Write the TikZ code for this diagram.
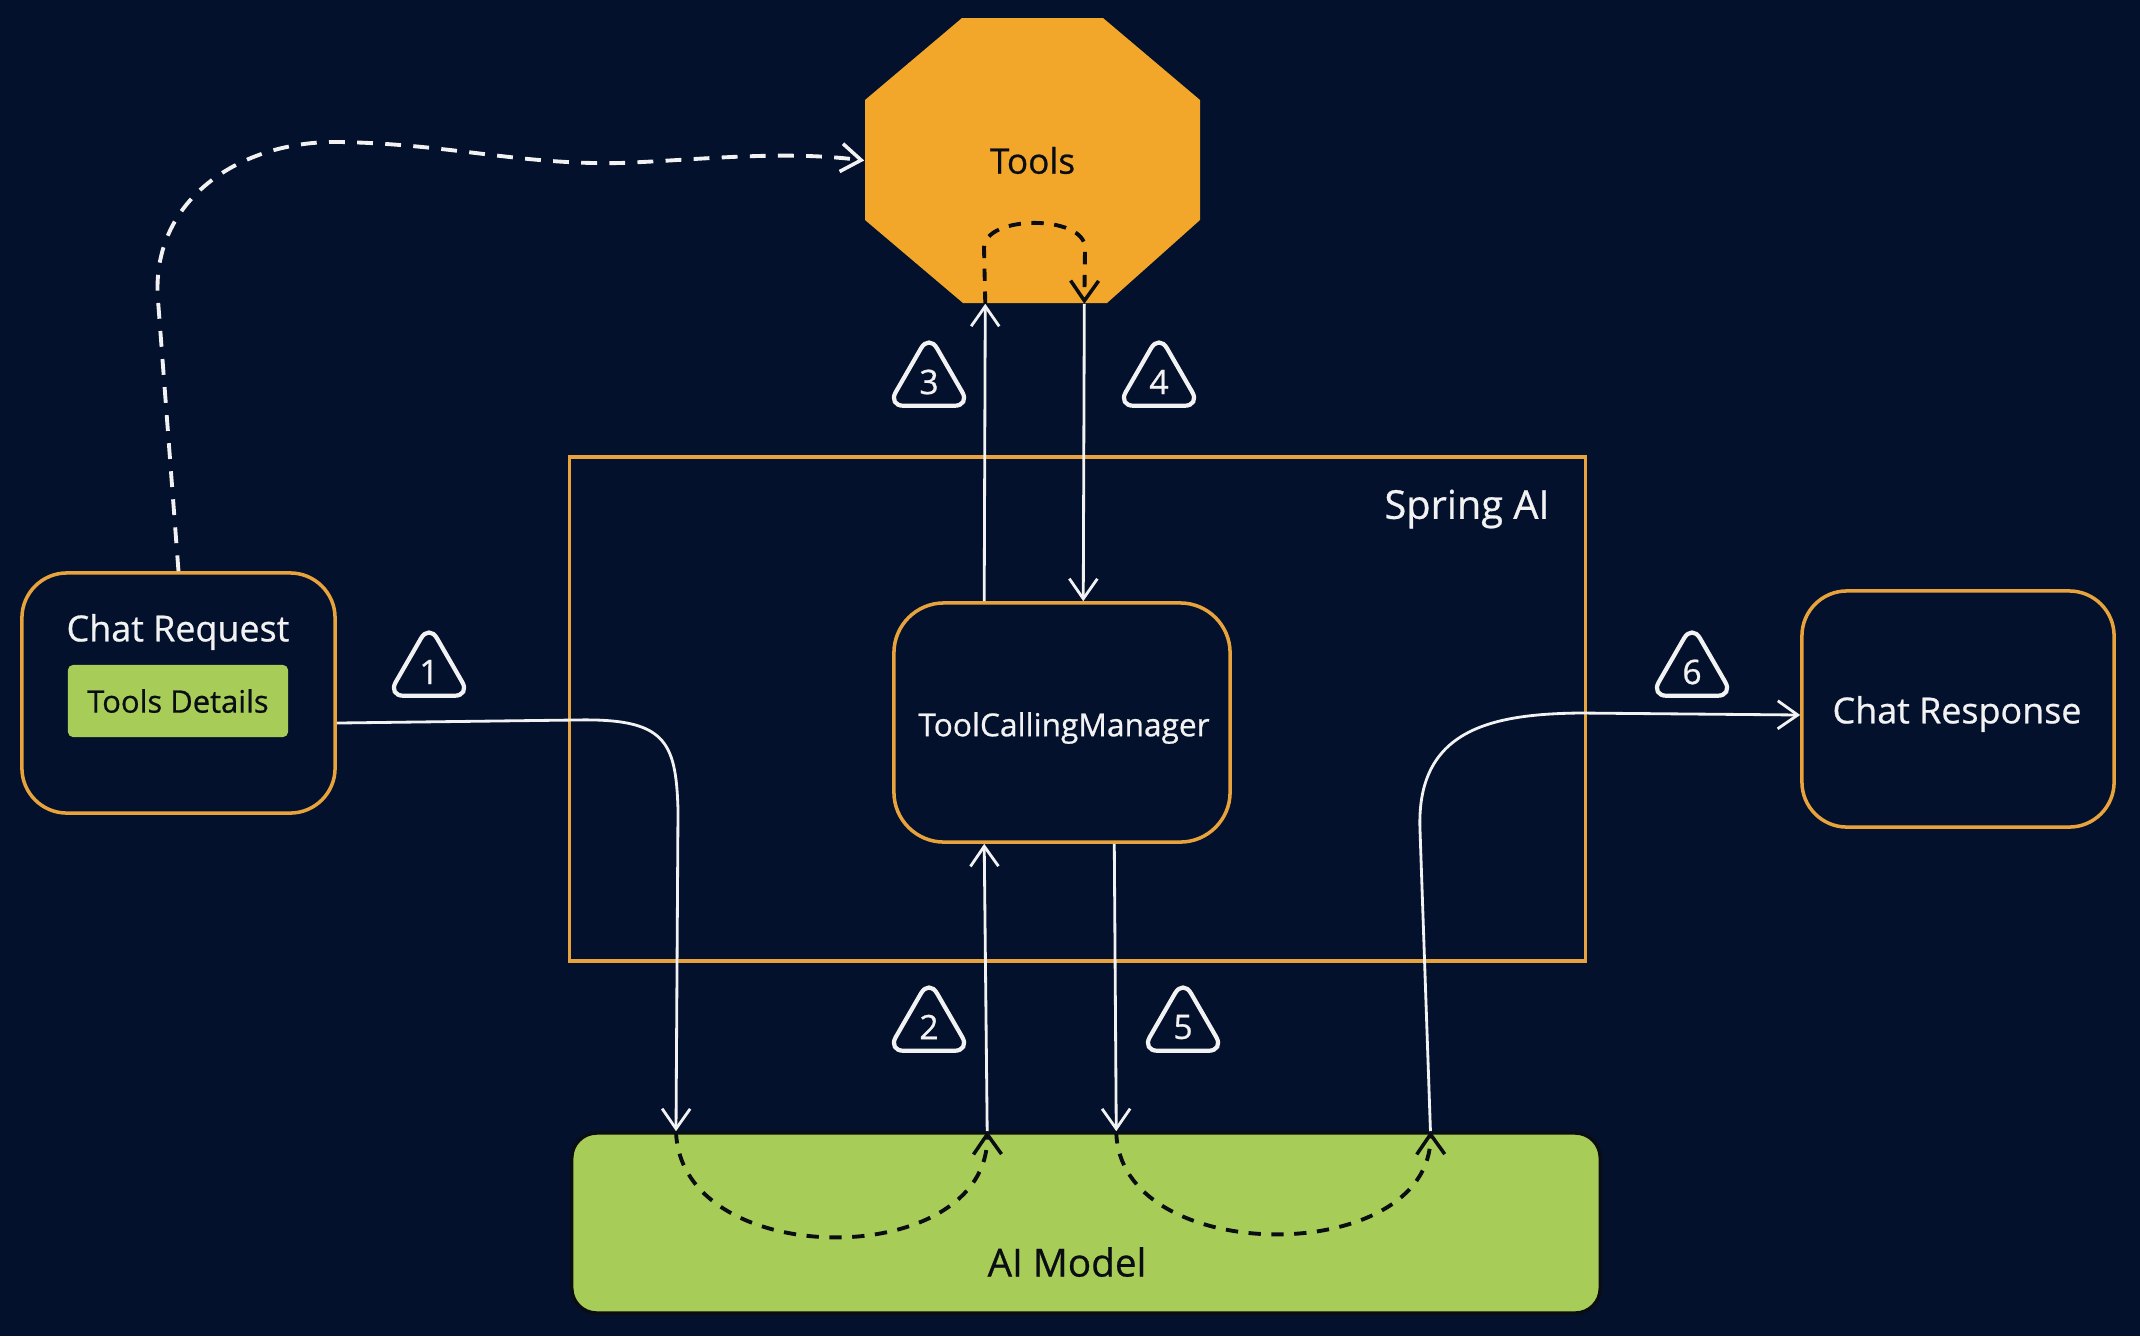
\documentclass[tikz,border=0pt]{standalone}
\usepackage{fontspec}
\setmainfont{Open Sans}[FakeBold=0.7]
\usetikzlibrary{arrows.meta,shapes.geometric}
\definecolor{bgnavy}{RGB}{3,17,45}
\definecolor{toolorange}{RGB}{243,167,42}
\definecolor{edgeorange}{RGB}{232,163,60}
\definecolor{leafgreen}{RGB}{168,204,88}
\definecolor{inkwhite}{RGB}{242,242,242}
\definecolor{inkblack}{RGB}{10,14,20}
\tikzset{
  box/.style={draw=edgeorange, line width=1pt, rounded corners=0.45cm, inner sep=0pt},
  lbl/.style={text=inkwhite, inner sep=0pt, font=\fontsize{10.2}{12}\selectfont},
  flow/.style={draw=inkwhite, line width=0.8pt, -{Straight Barb[length=2mm,width=2.8mm,line width=0.8pt]}},
  whitedash/.style={draw=inkwhite, line width=1.1pt, dash pattern=on 4.5pt off 3.5pt, -{Straight Barb[length=2mm,width=2.8mm,line width=1pt]}},
  loopdash/.style={draw=inkblack, line width=1.1pt, dash pattern=on 3.5pt off 3pt, -{Straight Barb[length=2mm,width=2.8mm,line width=1pt]}},
  stepmark/.style={regular polygon, regular polygon sides=3, draw=inkwhite, line width=1.2pt, rounded corners=4.5pt, minimum size=0.95cm, inner sep=0pt, text=inkwhite, font=\fontsize{9.6}{10}\selectfont},
}
\begin{document}
\begin{tikzpicture}[x=0.01cm, y=-0.01cm]
\useasboundingbox (0,0) rectangle (2140,1336);
\fill[bgnavy] (0,0) rectangle (2140,1336);

% Spring AI frame
\node[draw=edgeorange, line width=1pt, minimum width=10.15cm, minimum height=5.04cm, inner sep=0pt] (springai) at (1077.5,709) {};
\node[lbl, font=\fontsize{11.3}{13}\selectfont] (springlbl) at (1467,509) {Spring AI};

% Tools octagon
\fill[toolorange] (962,18) -- (1103,18) -- (1200,100) -- (1200,220) -- (1107,303) -- (963,303) -- (865,220) -- (865,100) -- cycle;
\node[minimum width=3.35cm, minimum height=2.85cm, inner sep=0pt, text=inkblack, font=\fontsize{10}{12}\selectfont] (tools) at (1032.5,160.5) {Tools};

% Chat Request
\node[box, minimum width=3.13cm, minimum height=2.40cm] (chatreq) at (178.5,693) {};
\node[lbl] (chatreqlbl) at (178,632) {Chat Request};
\node[fill=leafgreen, rounded corners=0.05cm, minimum width=2.20cm, minimum height=0.72cm, inner sep=0pt, text=inkblack, font=\fontsize{8.8}{10}\selectfont] (tooldet) at (178,701) {Tools Details};

% ToolCallingManager
\node[box, rounded corners=0.5cm, minimum width=3.36cm, minimum height=2.39cm] (tcm) at (1062,722.5) {};
\node[lbl, font=\fontsize{9}{11}\selectfont] (tcmlbl) at (1064,728) {ToolCallingManager};

% Chat Response
\node[box, minimum width=3.12cm, minimum height=2.36cm] (chatresp) at (1958,709) {};
\node[lbl] (chatresplbl) at (1957,714) {Chat Response};

% AI Model
\node[fill=leafgreen, draw=inkblack, line width=1pt, rounded corners=0.25cm, minimum width=10.28cm, minimum height=1.80cm, inner sep=0pt] (aimodel) at (1086,1223) {};
\node[text=inkblack, inner sep=0pt, font=\fontsize{11}{13}\selectfont] (aimodellbl) at (1067,1262) {AI Model};

\coordinate (m1) at ([xshift=1.06cm]aimodel.north west);
\coordinate (m2) at ([xshift=4.17cm]aimodel.north west);
\coordinate (m5) at ([xshift=5.46cm]aimodel.north west);
\coordinate (m6) at ([xshift=8.60cm]aimodel.north west);
\coordinate (t3) at ([xshift=1.21cm]tools.south west);
\coordinate (t4) at ([xshift=2.20cm]tools.south west);
\coordinate (c3) at ([xshift=0.92cm]tcm.north west);
\coordinate (c4) at ([xshift=1.91cm]tcm.north west);
\coordinate (c2) at ([xshift=0.92cm]tcm.south west);
\coordinate (c5) at ([xshift=2.22cm]tcm.south west);

% dashed request -> tools
\draw[whitedash] (chatreq.north) -- (158,300) .. controls (150,200) and (240,140) .. (340,142)
  .. controls (450,144) and (520,165) .. (620,163) .. controls (700,160) and (780,150) .. (tools.west);

% 1
\draw[flow] ([yshift=-0.30cm]chatreq.east) -- (575,720) .. controls (665,718) and (676,740) .. (678,810) -- (m1);
% 2
\draw[flow] (m2) -- (c2);
% 3
\draw[flow] (c3) -- (t3);
% 4
\draw[flow] (t4) -- (c4);
% 5
\draw[flow] (c5) -- (m5);
% 6
\draw[flow] (m6) -- (1420,830) .. controls (1416,730) and (1490,714) .. (1580,713) -- ([yshift=-0.06cm]chatresp.west);

% loops
\draw[loopdash] (m1) .. controls (680,1272) and (989,1272) .. (m2);
\draw[loopdash] (m5) .. controls (1118,1268) and (1432,1268) .. (m6);
\draw[loopdash] (t3) -- (984,248) to[out=90,in=90,looseness=0.85] (1085,248) -- (t4);

% step markers
\node[stepmark] (s1) at (429,672) {1};
\node[stepmark] (s2) at (929,1027) {2};
\node[stepmark] (s3) at (929,382) {3};
\node[stepmark] (s4) at (1159,382) {4};
\node[stepmark] (s5) at (1183,1027) {5};
\node[stepmark] (s6) at (1692,672) {6};
\end{tikzpicture}
\end{document}
